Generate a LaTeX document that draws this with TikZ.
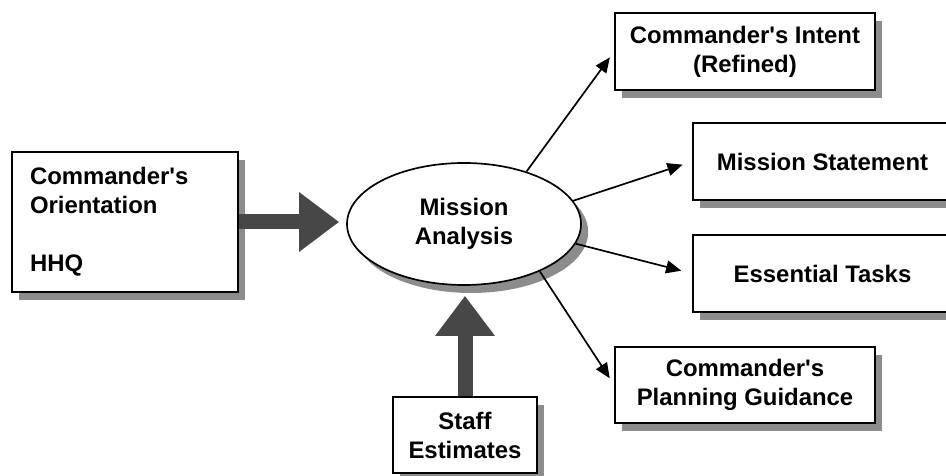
\documentclass[tikz,border=0pt]{standalone}
\usepackage{fontspec}
\setmainfont{Liberation Sans}
\usetikzlibrary{shapes.geometric,shadows,arrows.meta}

\begin{document}
\begin{tikzpicture}[
  shadebox/.style={draw, very thick, fill=white, inner sep=0pt, align=center,
    font=\fontsize{17pt}{20.6pt}\selectfont\bfseries,
    drop shadow={shadow xshift=0.18cm, shadow yshift=-0.2cm, fill=black!45, opacity=1}},
  fatarrow/.style={line width=0.375cm, draw=black!72, -{Triangle[length=1cm, width=1.425cm]}},
  thinarrow/.style={very thick, -{Triangle[length=0.38cm, width=0.32cm]}}
]
% Fix the page size
\useasboundingbox (0, 0) rectangle (23.65, 11.9);

% Input, centre and output boxes
\node[shadebox, align=left, text width=4.75cm, minimum width=5.65cm, minimum height=3.5cm] (orient) at (3.125, 6.35) {Commander\textquotesingle s\\Orientation\\[0.725cm]HHQ};
\node[shadebox, ellipse, minimum width=5.85cm, minimum height=3.05cm] (mission) at (11.6, 6.3) {Mission\\Analysis};
\node[shadebox, minimum width=3.6cm, minimum height=1.9cm] (staff) at (11.625, 1.025) {Staff\\Estimates};
\node[shadebox, minimum width=6.5cm, minimum height=1.925cm] (intent) at (18.625, 10.6125) {Commander\textquotesingle s Intent\\(Refined)};
\node[shadebox, minimum width=6.475cm, minimum height=1.925cm] (statement) at (20.5625, 7.8625) {Mission Statement};
\node[shadebox, minimum width=6.475cm, minimum height=1.925cm] (tasks) at (20.5625, 5.0625) {Essential Tasks};
\node[shadebox, minimum width=6.5cm, minimum height=1.9cm] (guidance) at (18.625, 2.275) {Commander\textquotesingle s\\Planning Guidance};

% Big arrows into the analysis
\draw[fatarrow, shorten >=0.175cm] (orient.east) -- (orient.east -| mission.west);
\draw[fatarrow, shorten >=0.25cm] (staff.north) -- (staff.north |- mission.south);

% Thin arrows out of the analysis
\draw[thinarrow, shorten >=0.18cm] (mission.40) -- (intent.west);
\draw[thinarrow, shorten >=0.25cm] (mission.12) -- (statement.west);
\draw[thinarrow, shorten >=0.28cm] (mission.-10) -- (tasks.west);
\draw[thinarrow, shorten >=0.2cm] (mission.-32) -- (guidance.west);
\end{tikzpicture}
\end{document}
